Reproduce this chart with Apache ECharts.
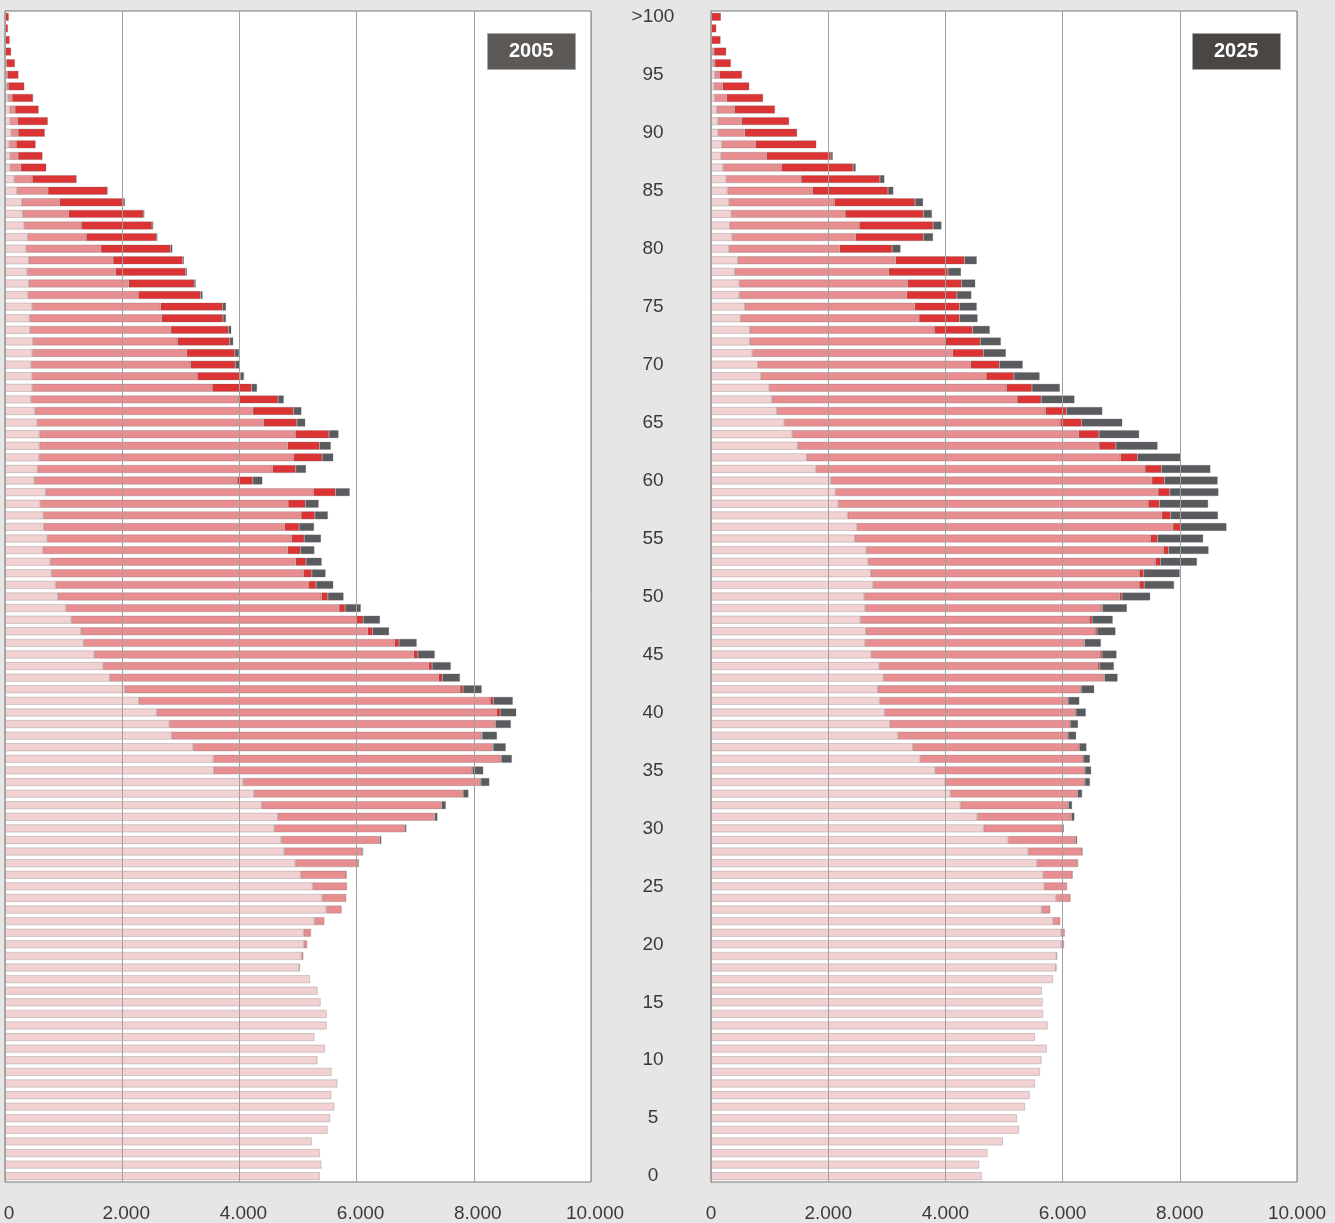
<!DOCTYPE html>
<html><head><meta charset="utf-8">
<script src="https://cdn.jsdelivr.net/npm/echarts/dist/echarts.min.js"></script>
<style>html,body{margin:0;padding:0;background:#e6e6e6;overflow:hidden}#c{width:1335px;height:1223px}</style>
</head><body><div id="c"></div><script>
// Age categories (index 0 = age 0 ... index 100 = ">100")
const ages = ["0","1","2","3","4","5","6","7","8","9","10","11","12","13","14","15","16","17","18","19",
"20","21","22","23","24","25","26","27","28","29","30","31","32","33","34","35","36","37","38","39",
"40","41","42","43","44","45","46","47","48","49","50","51","52","53","54","55","56","57","58","59",
"60","61","62","63","64","65","66","67","68","69","70","71","72","73","74","75","76","77","78","79",
"80","81","82","83","84","85","86","87","88","89","90","91","92","93","94","95","96","97","98","99",">100"];

// 2005
const ledig2005 = [5373,5399,5373,5235,5503,5549,5621,5569,5673,5575,5333,5458,5281,5490,5490,5386,5333,5203,5020,5059,
5098,5098,5281,5484,5412,5248,5046,4954,4765,4712,4595,4654,4379,4248,4065,3562,3556,3209,2843,2804,
2588,2281,2039,1784,1673,1523,1340,1294,1131,1039,902,863,791,771,647,719,660,654,601,693,
497,556,582,588,588,549,510,444,464,464,444,464,477,425,418,464,392,405,379,405,
359,386,327,300,285,203,157,85,85,72,105,85,80,50,25,20,15,5,5,0,0];
const verh2005 = [0,0,0,0,0,0,0,0,0,0,0,0,0,0,0,0,0,0,13,33,
59,124,170,261,412,588,778,1078,1333,1686,2229,2680,3072,3569,4052,4412,4902,5111,5288,5549,
5797,6000,5725,5614,5556,5451,5307,4895,4863,4660,4497,4314,4301,4190,4176,4170,4111,4399,4229,4569,
3464,4007,4340,4235,4366,3863,3719,3536,3072,2817,2719,2634,2464,2405,2255,2190,1882,1706,1510,1438,
1275,1000,974,784,645,529,307,183,137,118,118,130,90,70,30,20,10,5,0,0,0];
const verw2005 = [0,0,0,0,0,0,0,0,0,0,0,0,0,0,0,0,0,0,0,0,
0,0,0,0,0,0,0,0,0,0,0,0,0,0,5,5,10,10,10,20,
65,52,52,65,59,72,78,85,118,105,111,131,144,176,216,216,248,235,294,379,
268,399,490,542,575,569,693,680,673,732,765,824,895,980,1046,1059,1065,1118,1196,1190,
1190,1196,1209,1275,1100,1013,752,437,418,333,457,515,405,360,275,190,145,95,75,50,65];
const gesch2005 = [0,0,0,0,0,0,0,0,0,0,0,0,0,0,0,0,0,0,0,0,
0,0,0,0,0,0,5,7,13,26,26,46,72,92,144,183,183,216,255,261,
275,333,320,301,320,288,301,281,288,268,268,294,235,268,242,288,255,222,229,242,
163,176,190,196,163,144,137,98,92,65,78,72,59,52,52,59,33,26,20,20,
33,20,20,20,20,10,5,0,0,0,0,0,0,0,0,0,0,0,0,0,0];

// 2025
const ledig2025 = [4621,4575,4719,4980,5255,5222,5359,5438,5529,5614,5641,5732,5529,5745,5667,5660,5647,5837,5885,5895,
5980,5974,5837,5641,5889,5686,5667,5562,5412,5072,4654,4542,4255,4085,3993,3824,3569,3444,3190,3052,
2961,2882,2843,2941,2869,2732,2627,2641,2549,2627,2614,2765,2725,2680,2647,2451,2490,2333,2170,2124,
2046,1791,1634,1477,1386,1248,1124,1039,993,850,797,706,660,660,503,575,484,484,405,458,
307,359,320,346,307,281,261,209,170,183,118,118,98,65,52,65,30,20,0,0,0];
const verh2025 = [0,0,0,0,0,0,0,0,0,0,0,0,0,0,0,0,0,0,10,13,
46,65,124,150,248,392,497,693,922,1150,1346,1608,1843,2170,2386,2556,2784,2843,2902,3078,
3261,3209,3471,3765,3732,3908,3739,3915,3908,4033,4359,4542,4582,4902,5072,5046,5392,5359,5288,5503,
5477,5614,5353,5144,4889,4712,4582,4183,4046,3843,3634,3418,3333,3150,3046,2902,2856,2869,2627,2693,
1889,2111,2209,1941,1797,1451,1275,993,778,575,457,405,301,203,144,78,35,30,0,0,0];
const verw2025 = [0,0,0,0,0,0,0,0,0,0,0,0,0,0,0,0,0,0,0,0,
0,0,0,0,0,0,0,0,0,0,0,0,0,0,3,3,3,3,3,3,
5,5,5,10,33,33,10,33,46,20,39,85,78,85,92,124,131,150,196,203,
216,281,294,288,346,366,359,412,438,477,490,523,601,654,693,765,856,922,1013,1176,
895,1157,1261,1340,1379,1288,1346,1222,1098,1039,895,810,693,621,457,386,275,210,163,90,170];
const gesch2025 = [0,0,0,0,0,0,0,0,0,0,0,0,0,0,0,0,0,0,0,0,
0,0,0,0,0,0,5,7,7,26,20,52,65,78,85,105,111,118,137,131,
170,190,222,222,242,248,278,314,353,418,484,510,614,627,680,778,784,810,830,830,
908,837,732,712,686,693,614,569,477,438,399,386,353,294,307,294,248,235,222,209,
144,163,144,144,137,92,78,46,33,0,0,0,0,0,0,0,0,0,0,0,0];

const xTicks = {min: 0, max: 10000, interval: 2000};
const panelTitles = ["2005", "2025"];

const FONT = "'Liberation Sans', Arial, sans-serif";
const colors = {ledig:'#f2d1d3', verh:'#e88e90', verw:'#dc3434', gesch:'#595b5f'};
const fmt = v => String(v).replace(/\B(?=(\d{3})+(?!\d))/g, '.');
const nz = arr => arr.map(v => v === 0 ? null : v);

function mk(name, data, color, idx) {
  return {
    name, type:'bar', stack: 'p' + idx, xAxisIndex: idx, yAxisIndex: idx,
    data: nz(data), barWidth: 8, silent: true,
    itemStyle: {color, borderColor: 'rgba(100,100,100,0.45)', borderWidth: 0.6}
  };
}

function xAxis(idx, shift) {
  return {
    gridIndex: idx, type:'value', min: xTicks.min, max: xTicks.max, interval: xTicks.interval, z: 5,
    axisLine:{show:false}, axisTick:{show:false},
    splitLine:{show:true, lineStyle:{color:'#a0a0a0', width:1}},
    axisLabel:{show:true, formatter: fmt, color:'#3a3a3a', fontSize:19, fontFamily:FONT, margin:22,
      padding:[0,0,0,shift]}
  };
}
function yAxis(idx, labels) {
  return {
    gridIndex: idx, type:'category', data: ages,
    axisLine:{show:true, lineStyle:{color:'#666', width:1}}, axisTick:{show:false},
    splitLine:{show:false},
    axisLabel:{show: labels, interval: 4, align:'center', margin: 58, color:'#3a3a3a', fontSize:19, fontFamily:FONT}
  };
}
function titleBox(text, left, bg) {
  return {
    text, left, top: 33, padding:[8,22,8,22], backgroundColor: bg,
    borderColor:'#a8a8a8', borderWidth:1,
    textStyle:{color:'#fff', fontSize:20, fontWeight:'bold', fontFamily:FONT, lineHeight:21}
  };
}

const chart = echarts.init(document.getElementById('c'), null, {renderer:'canvas'});
chart.setOption({
  backgroundColor:'#e6e6e6',
  animation:false,
  title:[titleBox(panelTitles[0], 487, '#5d5957'), titleBox(panelTitles[1], 1192, '#4a4644')],
  grid:[
    {left:5, top:11, width:586, height:1173, show:true, backgroundColor:'#fff', borderColor:'#777', borderWidth:1},
    {left:711, top:11, width:586, height:1173, show:true, backgroundColor:'#fff', borderColor:'#777', borderWidth:1}
  ],
  xAxis:[xAxis(0, 8), xAxis(1, 0)],
  yAxis:[yAxis(0, false), yAxis(1, true)],
  series:[
    mk('ledig', ledig2005, colors.ledig, 0),
    mk('verheiratet', verh2005, colors.verh, 0),
    mk('verwitwet', verw2005, colors.verw, 0),
    mk('geschieden', gesch2005, colors.gesch, 0),
    mk('ledig', ledig2025, colors.ledig, 1),
    mk('verheiratet', verh2025, colors.verh, 1),
    mk('verwitwet', verw2025, colors.verw, 1),
    mk('geschieden', gesch2025, colors.gesch, 1)
  ]
});
</script></body></html>
